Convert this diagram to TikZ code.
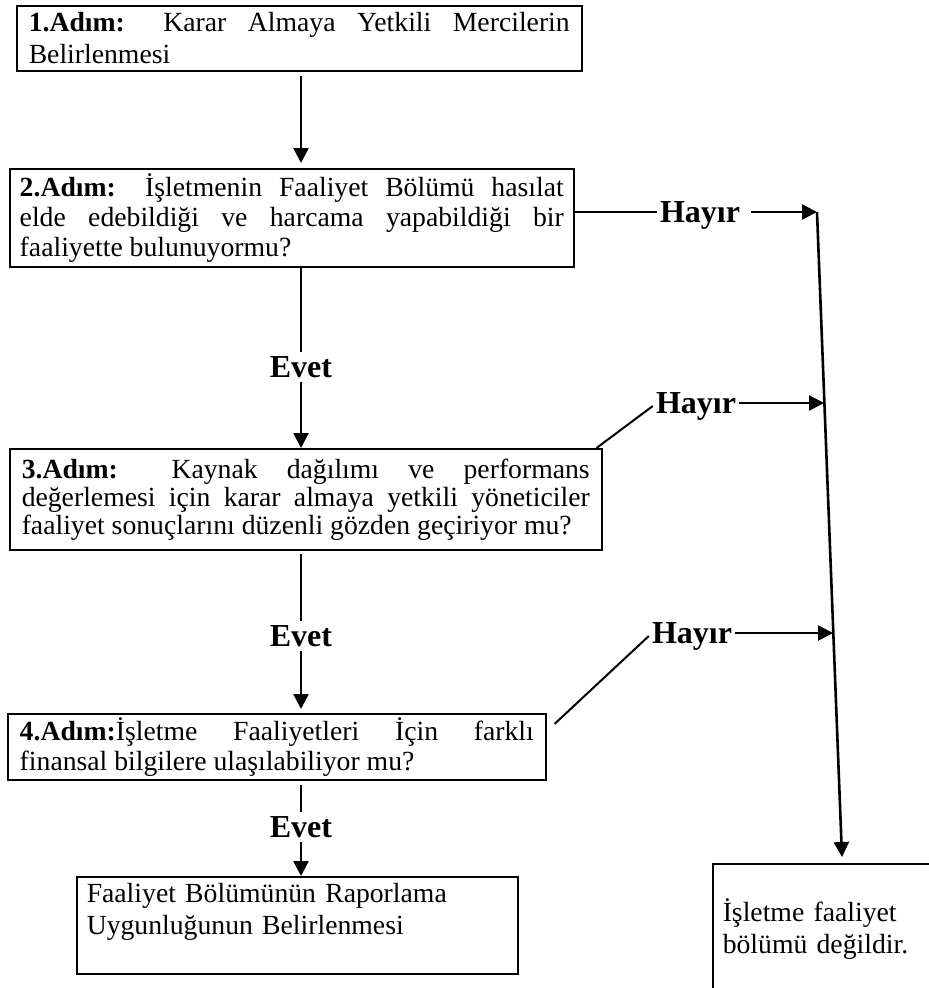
\documentclass[tikz,border=0pt]{standalone}
\usepackage{fontspec}
\setmainfont{Liberation Serif}
\usepackage{tikz}
\usetikzlibrary{arrows.meta}
\newcommand\bodyfont{\fontsize{27.7}{31}\selectfont}
\newcommand\answerfont{\fontsize{32}{36}\selectfont\bfseries}
\tolerance=10000
\hbadness=10000
\tikzset{
    >={Triangle[length=15pt,width=15pt]},
    stepbox/.style ={rectangle, draw, line width=1.5pt, anchor=north west,
                     align=justify, inner xsep=12pt, inner ysep=0pt, font=\bodyfont},
    endbox/.style ={rectangle, draw, line width=1.5pt, anchor=north west,
                    align=left, inner xsep=10pt, inner ysep=0pt, font=\bodyfont},
    answer/.style = {inner xsep=3pt, inner ysep=4pt, font=\answerfont},
    flow/.style = {line width=2.6pt},
    link/.style = {line width=2pt}
    }

\begin{document}
\begin{tikzpicture}[x=1pt, y=-1pt]
    \clip (0,0) rectangle (929,988);

    % steps
    \node[stepbox, text width=541pt, minimum height=65pt,
          font=\fontsize{27.7}{32}\selectfont] (1) at (16,5)
        {\textbf{1.Adım:} Karar Almaya Yetkili Mercilerin\linebreak Belirlenmesi};
    \node[stepbox, text width=544pt, inner xsep=10pt, minimum height=98pt,
          font=\fontsize{27.7}{30}\selectfont] (2) at (9,168)
        {\textbf{2.Adım:} İşletmenin Faaliyet Bölümü hasılat\linebreak elde edebildiği ve harcama yapabildiği bir\linebreak faaliyette bulunuyormu?};
    \node[stepbox, text width=568pt, minimum height=101pt,
          font=\fontsize{27.7}{28}\selectfont] (3) at (9,448)
        {\textbf{3.Adım:} Kaynak dağılımı ve performans\linebreak değerlemesi için karar almaya yetkili yöneticiler\linebreak faaliyet sonuçlarını düzenli gözden geçiriyor mu?};
    \node[stepbox, text width=514pt, minimum height=66pt,
          font=\fontsize{27.7}{30}\selectfont] (4) at (7,713)
        {\textbf{4.Adım:}İşletme Faaliyetleri İçin farklı\linebreak finansal bilgilere ulaşılabiliyor mu?};
    \node[endbox, text width=421pt, minimum height=97pt,
          font=\fontsize{27.7}{32}\selectfont] (5) at (76,876)
        {Faaliyet Bölümünün Raporlama\\Uygunluğunun Belirlenmesi\\\mbox{}};
    \node[endbox, text width=210pt,
          font=\fontsize{27.7}{32}\selectfont] (6) at (712,863)
        {\rule{0pt}{58pt}İşletme faaliyet\\bölümü değildir.\\\mbox{}\\\mbox{}};

    % answers
    \node[answer] (e1) at (301,367) {Evet};
    \node[answer] (e2) at (301,636) {Evet};
    \node[answer] (e3) at (301,827) {Evet};
    \node[answer] (h1) at (700,215) {Hayır};
    \node[answer] (h2) at (696,406) {Hayır};
    \node[answer] (h3) at (692,636) {Hayır};

    \coordinate (t) at (817,212);
    \coordinate (b) at (842,857);
    \coordinate (c2) at (824,403);
    \coordinate (c3) at (833,633);

    \draw[flow, ->, shorten <=4pt, shorten >=5pt] (1.south -| e1) -- (2.north -| e1);
    \draw[flow] (2.south -| e1) -- (e1);
    \draw[flow, ->] (e1) -- (3.north -| e1);
    \draw[flow, shorten <=3pt] (3.south -| e2) -- (e2);
    \draw[flow, ->, shorten >=4pt] (e2) -- (4.north -| e2);
    \draw[flow, shorten <=4pt] (4.south -| e3) -- (e3);
    \draw[flow, ->] (e3) -- (5.north -| e3);

    \draw[link] (2.east |- t) -- (h1.west |- t);
    \draw[flow, ->, shorten <=8pt] (h1.east |- t) -- (t);
    \draw[link] ([xshift=-6pt]3.north east) -- (h2.west);
    \draw[flow, ->] (h2.east |- c2) -- (c2);
    \draw[link] ([xshift=8pt,yshift=-11pt]4.north east) -- (h3.west);
    \draw[flow, ->] (h3.east |- c3) -- (c3);
    \draw[flow, ->] (t) -- (b);
\end{tikzpicture}
\end{document}
